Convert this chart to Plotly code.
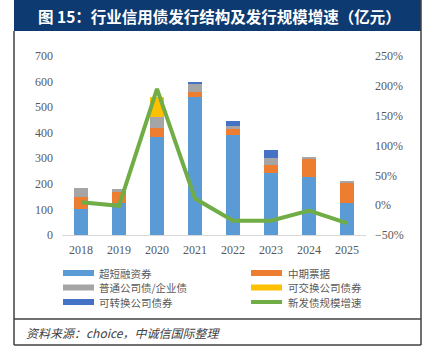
import plotly.graph_objects as go

years = ["2018", "2019", "2020", "2021", "2022", "2023", "2024", "2025"]
scp = [100, 124, 385, 539, 393, 243, 227, 124]          # 超短融资券
mtn = [47, 45, 35, 21, 20, 32, 73, 82]                   # 中期票据
corp = [38, 11, 40, 31, 12, 25, 5, 5]                    # 普通公司债/企业债
exch = [0, 0, 80, 0, 0, 0, 0, 0]                         # 可交换公司债券
conv = [0, 0, 0, 9, 20, 31, 0, 0]                        # 可转换公司债券
growth = [5, -1, 195, 11, -26, -26, -9, -30]             # 新发债规模增速 (%)

names = ["超短融资券", "中期票据", "普通公司债/企业债", "可交换公司债券", "可转换公司债券", "新发债规模增速"]
colors = ["#5B9BD5", "#ED7D31", "#A5A5A5", "#FFC000", "#4472C4", "#70AD47"]

W, H = 427, 357
L, R, T, B = 62, 366, 56, 235

fig = go.Figure()
for vals, nm, c in zip([scp, mtn, corp, exch, conv], names[:5], colors[:5]):
    fig.add_trace(go.Bar(x=years, y=vals, name=nm, marker=dict(color=c, line=dict(width=0)),
                         showlegend=False))
fig.add_trace(go.Scatter(x=years, y=growth, name=names[5], yaxis="y2", mode="lines",
                         line=dict(color=colors[5], width=4), showlegend=False))

def px(x):
    return (x - L) / (R - L)

def py(y):
    return (B - y) / (B - T)

shapes = []
annotations = []
# title bar
shapes.append(dict(type="rect", xref="paper", yref="paper", x0=px(14), x1=px(421), y0=py(31), y1=py(0),
                   fillcolor="#0D3A70", line=dict(width=0), layer="below"))
annotations.append(dict(xref="paper", yref="paper", x=px(36), y=py(16), xanchor="left", yanchor="middle",
                        text="<b>图 15：行业信用债发行结构及发行规模增速（亿元）</b>", showarrow=False,
                        font=dict(family="Noto Sans CJK SC", size=15.5, color="white")))
# borders
border = "#404040"
for (x0, y0, x1, y1) in [(14, 31, 14, 345), (421, 0, 421, 345), (14, 345, 421, 345), (14, 319, 421, 319)]:
    shapes.append(dict(type="line", xref="paper", yref="paper", x0=px(x0), x1=px(x1), y0=py(y0), y1=py(y1),
                       line=dict(color=border, width=1.5)))
# legend
rows = [273, 287.5, 302]
cols = [(63, 94, 97), (251, 282, 286)]
for i, (nm, c) in enumerate(zip(names, colors)):
    r, cidx = divmod(i, 2)
    x0, x1, xt = cols[cidx]
    yc = rows[r]
    if i < 5:
        shapes.append(dict(type="rect", xref="paper", yref="paper", x0=px(x0), x1=px(x1),
                           y0=py(yc + 3), y1=py(yc - 3), fillcolor=c, line=dict(width=0)))
    else:
        shapes.append(dict(type="line", xref="paper", yref="paper", x0=px(x0), x1=px(x1),
                           y0=py(yc), y1=py(yc), line=dict(color=c, width=4)))
    annotations.append(dict(xref="paper", yref="paper", x=px(xt), y=py(yc), xanchor="left", yanchor="middle",
                            text=nm, showarrow=False,
                            font=dict(family="Noto Sans CJK SC", size=10.5, color="#595959")))
# source
annotations.append(dict(xref="paper", yref="paper", x=px(24), y=py(332), xanchor="left", yanchor="middle",
                        text="<i>资料来源：choice，中诚信国际整理</i>", showarrow=False,
                        font=dict(family="Noto Sans CJK SC, Liberation Serif", size=12, color="#404040")))

tickfont = dict(family="Liberation Serif", size=12, color="#595959")
fig.update_layout(
    width=W, height=H,
    margin=dict(l=L, r=W - R, t=T, b=H - B),
    paper_bgcolor="white", plot_bgcolor="white",
    barmode="stack", bargap=0.65,
    showlegend=False,
    xaxis=dict(showgrid=False, showline=True, linecolor="#D9D9D9", linewidth=1, ticks="",
               tickfont=tickfont, ticklabelstandoff=4),
    yaxis=dict(range=[0, 700], dtick=100, showgrid=False, showline=False, zeroline=False,
               tickfont=tickfont, ticklabelstandoff=8),
    yaxis2=dict(range=[-50, 250], dtick=50, overlaying="y", side="right", showgrid=False,
                zeroline=False, ticksuffix="%", tickfont=tickfont, ticklabelstandoff=8),
    shapes=shapes, annotations=annotations,
)

fig.write_html("out.html", config={"displayModeBar": False},
               post_script="document.body.style.margin='0';document.body.style.overflow='hidden';")
